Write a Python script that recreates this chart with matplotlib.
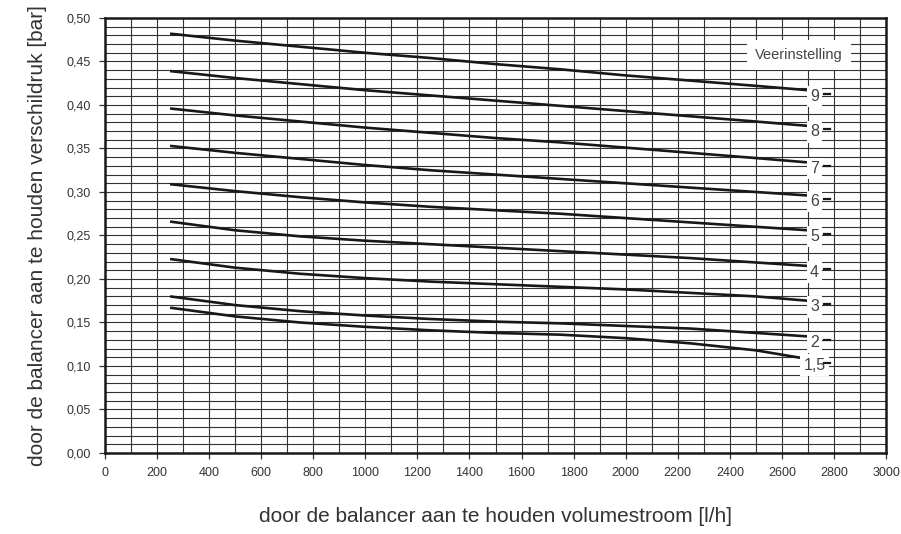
import matplotlib
matplotlib.use("Agg")
import matplotlib.pyplot as plt
from matplotlib import font_manager
from matplotlib.ticker import MultipleLocator, FuncFormatter

names = {f.name for f in font_manager.fontManager.ttflist}
fam = ['Liberation Sans Narrow', 'DejaVu Sans'] if 'Liberation Sans Narrow' in names else ['Liberation Sans', 'DejaVu Sans']
plt.rcParams['font.family'] = fam

flow = [250, 500, 750, 1000, 1250, 1500, 1750, 2000, 2250, 2500, 2700]
settings = ['9', '8', '7', '6', '5', '4', '3', '2', '1,5']
p9 = [0.482, 0.474, 0.467, 0.460, 0.454, 0.447, 0.441, 0.434, 0.428, 0.422, 0.417]
p8 = [0.439, 0.431, 0.424, 0.417, 0.411, 0.405, 0.399, 0.393, 0.387, 0.381, 0.376]
p7 = [0.396, 0.388, 0.381, 0.374, 0.368, 0.362, 0.357, 0.351, 0.345, 0.339, 0.334]
p6 = [0.353, 0.345, 0.338, 0.331, 0.325, 0.320, 0.315, 0.310, 0.305, 0.300, 0.296]
p5 = [0.309, 0.301, 0.294, 0.288, 0.283, 0.279, 0.275, 0.270, 0.265, 0.260, 0.256]
p4 = [0.266, 0.256, 0.249, 0.244, 0.240, 0.236, 0.232, 0.228, 0.224, 0.219, 0.215]
p3 = [0.223, 0.213, 0.206, 0.201, 0.197, 0.194, 0.191, 0.188, 0.184, 0.180, 0.175]
p2 = [0.180, 0.170, 0.163, 0.158, 0.154, 0.151, 0.149, 0.146, 0.143, 0.138, 0.134]
p15 = [0.167, 0.157, 0.150, 0.145, 0.141, 0.138, 0.136, 0.132, 0.126, 0.118, 0.108]
series = [p9, p8, p7, p6, p5, p4, p3, p2, p15]

fig = plt.figure(figsize=(9.01, 5.34), dpi=100)
ax = fig.add_axes([0.1165, 0.1517, 0.8669, 0.8146])
ax.set_xlim(0, 3000)
ax.set_ylim(0, 0.5)

ax.xaxis.set_major_locator(MultipleLocator(200))
ax.xaxis.set_minor_locator(MultipleLocator(100))
ax.yaxis.set_major_locator(MultipleLocator(0.05))
ax.yaxis.set_minor_locator(MultipleLocator(0.01))
ax.yaxis.set_major_formatter(FuncFormatter(lambda v, p: f"{v:.2f}".replace('.', ',')))
ax.xaxis.set_major_formatter(FuncFormatter(lambda v, p: f"{int(round(v))}"))
ax.grid(which='both', axis='both', color='#333333', linewidth=0.8)
ax.set_axisbelow(True)
ax.tick_params(which='major', direction='out', length=4, width=0.9, labelsize=9, colors='#333333', pad=6)
ax.tick_params(which='minor', length=0)
for s in ax.spines.values():
    s.set_linewidth(1.8)
    s.set_color('#1a1a1a')

for lab, vals in zip(settings, series):
    ax.plot(flow, vals, color='#1a1718', linewidth=1.9, solid_capstyle='butt', zorder=3)
    lx = flow[-1] + 25
    ly = vals[-1] - 0.007
    ax.text(lx, ly, lab, ha='center', va='center', fontsize=11.5, color='#444444', zorder=5,
            bbox=dict(boxstyle='square,pad=0.2', facecolor='white', edgecolor='none'))
    ax.plot([lx + 38, lx + 58], [ly + 0.003, ly + 0.003], color='#1a1718', linewidth=1.6, zorder=5)

ax.text(2665, 0.4575, 'Veerinstelling', ha='center', va='center', fontsize=10.5, color='#444444', zorder=5,
        bbox=dict(boxstyle='square,pad=0.55', facecolor='white', edgecolor='none'))

ax.set_xlabel('door de balancer aan te houden volumestroom [l/h]', fontsize=15, color='#333333', labelpad=20)
ax.set_ylabel('door de balancer aan te houden verschildruk [bar]', fontsize=15, color='#333333', labelpad=14)

fig.savefig('out.png', dpi=100)
